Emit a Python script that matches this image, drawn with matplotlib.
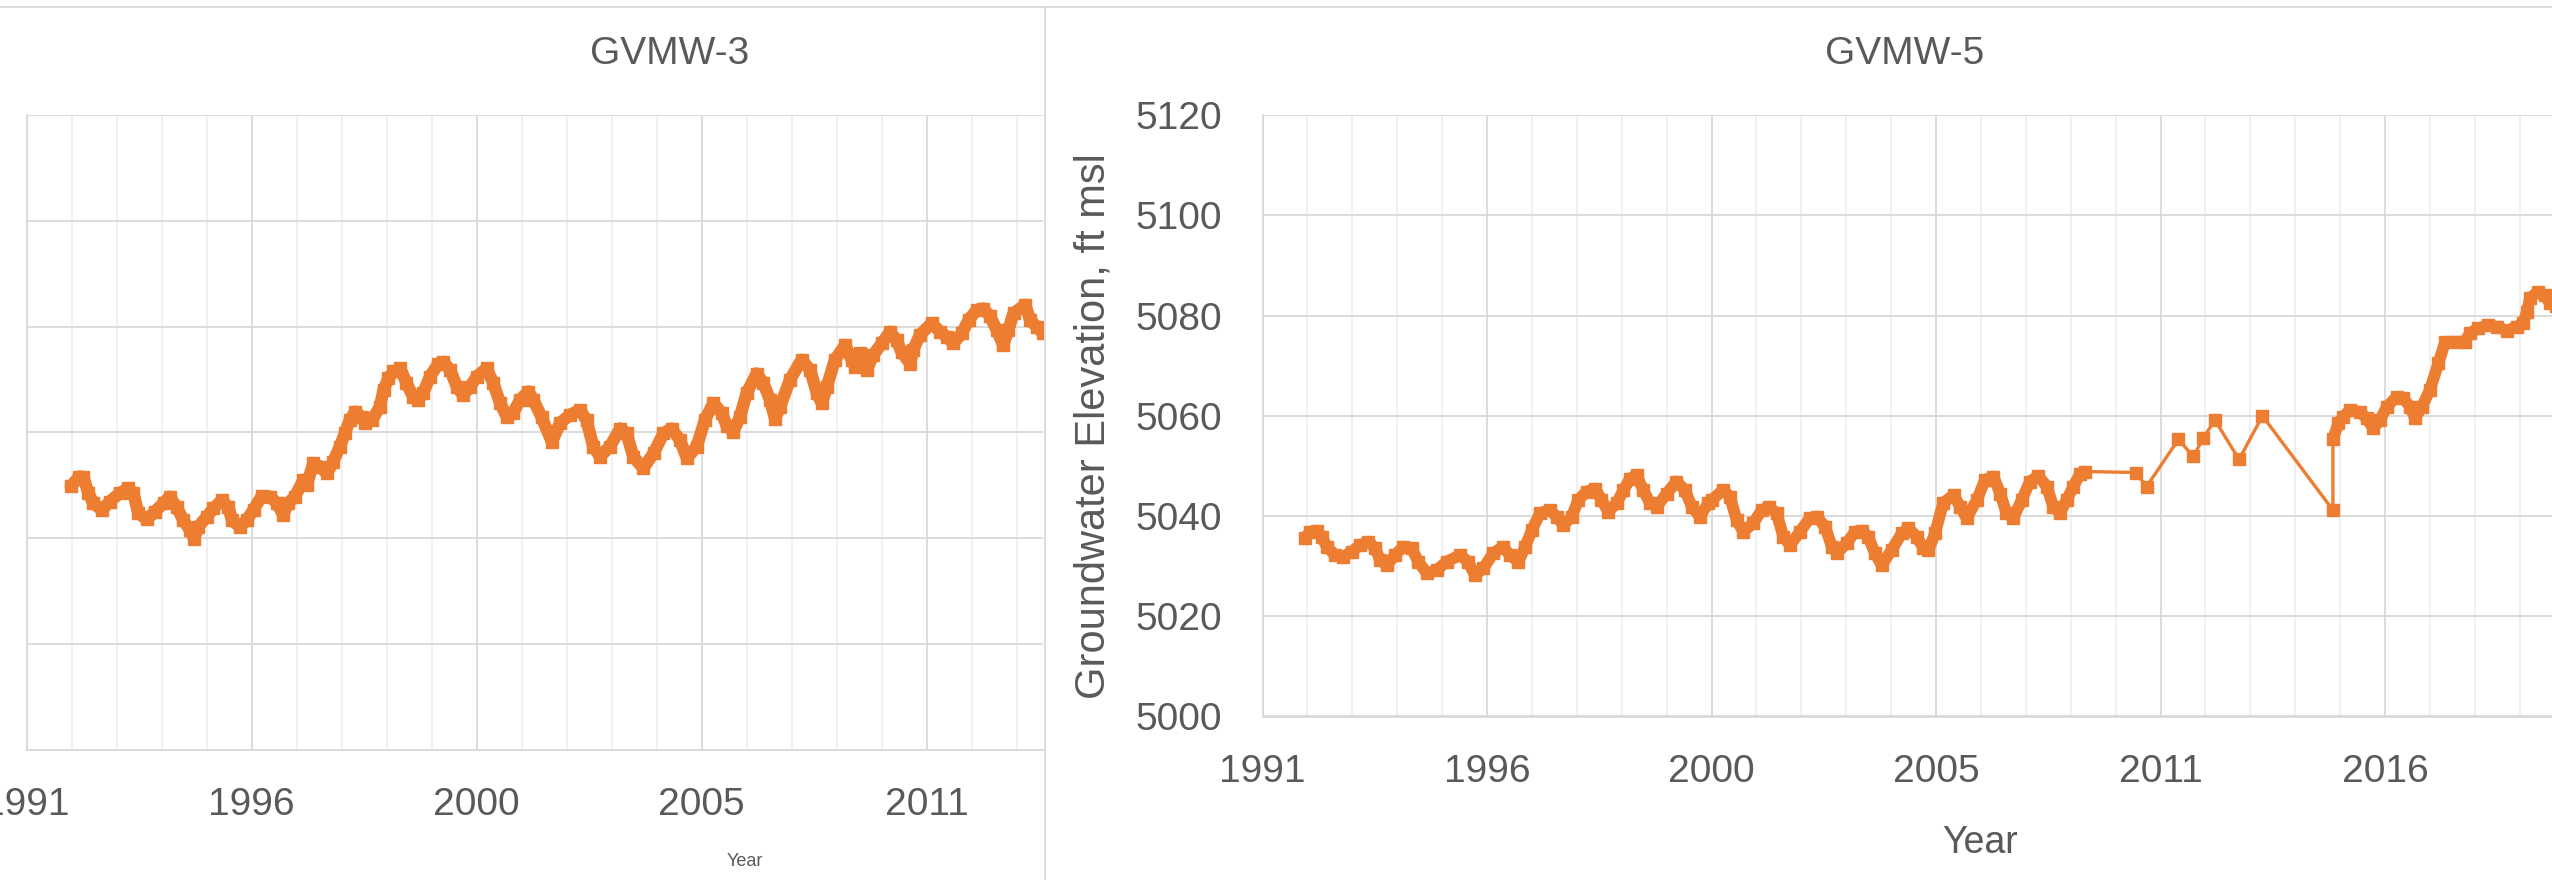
import numpy as np
import matplotlib
matplotlib.use("Agg")
import matplotlib.pyplot as plt
from matplotlib.lines import Line2D

plt.rcParams["font.family"] = ["Liberation Sans", "DejaVu Sans"]

W, H = 2552, 880
ORANGE = "#ED7D31"
TEXT = "#595959"
GRID = "#D9D9D9"
MINOR = "#EFEFEF"

# x axis is a category (date) axis: labels sit every 5 minor gridlines
YEAR_LABELS = ["1991", "1996", "2000", "2005", "2011", "2016"]
YEAR_POS = [0, 5, 10, 15, 20, 25]

# GVMW-3 : position on the category axis, elevation ft msl
gv3_pos = [0.98, 1.17, 1.26, 1.37, 1.48, 1.67, 1.85, 2.07, 2.26, 2.37, 2.48, 2.67,
           2.85, 3.04, 3.18, 3.33, 3.48, 3.63, 3.72, 3.81, 4.00, 4.15, 4.33, 4.48,
           4.56, 4.74, 4.89, 5.04, 5.22, 5.41, 5.56, 5.70, 5.81, 5.96, 6.15, 6.22,
           6.37, 6.52, 6.67, 6.81, 6.96, 7.07, 7.18, 7.30, 7.44, 7.52, 7.67, 7.85,
           7.93, 8.04, 8.15, 8.30, 8.44, 8.59, 8.70, 8.81, 8.96, 9.15, 9.26, 9.41,
           9.56, 9.70, 9.85, 10.00, 10.22, 10.37, 10.52, 10.67, 10.81, 10.96, 11.15,
           11.26, 11.44, 11.67, 11.85, 12.07, 12.30, 12.44, 12.59, 12.74, 12.96,
           13.19, 13.33, 13.48, 13.70, 13.93, 14.15, 14.33, 14.52, 14.67, 14.89,
           15.07, 15.26, 15.45, 15.56, 15.70, 15.85, 16.00, 16.22, 16.37, 16.52,
           16.63, 16.74, 16.96, 17.22, 17.41, 17.56, 17.67, 17.78, 17.96, 18.19,
           18.33, 18.41, 18.52, 18.67, 18.81, 19.00, 19.19, 19.33, 19.44, 19.63,
           19.70, 19.85, 20.11, 20.30, 20.44, 20.59, 20.78, 20.93, 21.11, 21.26,
           21.41, 21.56, 21.70, 21.81, 21.93, 22.19, 22.30, 22.44, 22.59, 22.70]
gv3_elev = [5049.8, 5051.6, 5051.5, 5048.5, 5046.6, 5045.3, 5046.9, 5048.5, 5049.4,
            5048.5, 5044.7, 5043.5, 5045.0, 5046.6, 5047.8, 5045.9, 5043.4, 5041.5,
            5039.9, 5042.1, 5044.0, 5045.6, 5047.1, 5045.9, 5043.4, 5042.1, 5043.4,
            5045.3, 5047.9, 5047.8, 5046.6, 5044.4, 5046.6, 5047.8, 5051.0, 5050.0,
            5054.1, 5053.5, 5052.2, 5054.4, 5057.3, 5059.8, 5062.3, 5063.9, 5062.9,
            5061.7, 5062.3, 5064.8, 5068.0, 5070.2, 5071.5, 5072.1, 5069.3, 5066.7,
            5066.1, 5067.4, 5070.5, 5073.0, 5073.3, 5071.8, 5068.6, 5067.0, 5068.6,
            5070.5, 5072.1, 5069.3, 5065.5, 5062.9, 5063.6, 5066.1, 5067.7, 5066.1,
            5062.9, 5058.2, 5061.7, 5063.3, 5064.2, 5062.3, 5057.3, 5055.4, 5057.3,
            5060.7, 5059.8, 5055.4, 5053.2, 5056.0, 5059.8, 5060.7, 5058.5, 5055.1,
            5057.3, 5062.3, 5065.5, 5063.6, 5061.1, 5060.1, 5062.9, 5067.4, 5071.1,
            5069.3, 5066.1, 5062.6, 5064.8, 5069.9, 5073.7, 5071.8, 5067.4, 5065.5,
            5068.6, 5073.7, 5076.5, 5073.7, 5072.4, 5074.9, 5071.8, 5074.6, 5076.8,
            5079.0, 5077.4, 5075.2, 5073.0, 5075.6, 5078.4, 5080.6, 5079.0, 5078.1,
            5076.8, 5078.7, 5081.2, 5083.1, 5083.4, 5081.9, 5079.3, 5076.5, 5079.3,
            5082.5, 5084.1, 5081.2, 5080.0, 5078.7, 5079.0]

# GVMW-5, early monthly record
gv5_pos_a = [0.95, 1.06, 1.21, 1.32, 1.43, 1.62, 1.80, 1.99, 2.17, 2.36, 2.51, 2.62,
             2.77, 2.95, 3.14, 3.32, 3.47, 3.66, 3.88, 4.10, 4.40, 4.58, 4.73, 4.92,
             5.14, 5.36, 5.51, 5.70, 5.85, 6.00, 6.18, 6.40, 6.55, 6.70, 6.89, 7.03,
             7.22, 7.41, 7.55, 7.70, 7.89, 8.04, 8.19, 8.33, 8.48, 8.63, 8.78, 9.00,
             9.22, 9.41, 9.56, 9.74, 9.93, 10.00, 10.26, 10.41, 10.56, 10.71, 10.93,
             11.12, 11.27, 11.45, 11.60, 11.75, 11.97, 12.19, 12.34, 12.53, 12.68,
             12.79, 13.01, 13.20, 13.35, 13.49, 13.64, 13.79, 14.01, 14.24, 14.38,
             14.57, 14.72, 14.83, 14.98, 15.16, 15.39, 15.54, 15.68, 15.91, 16.09,
             16.28, 16.43, 16.57, 16.72, 16.91, 17.09, 17.28, 17.47, 17.61, 17.76,
             17.91, 18.06, 18.21, 18.32]
gv5_elev_a = [5035.6, 5036.9, 5037.1, 5035.9, 5033.9, 5032.2, 5031.9, 5032.9, 5034.2,
              5034.9, 5033.6, 5031.2, 5030.2, 5032.2, 5033.9, 5033.6, 5030.9, 5028.6,
              5029.2, 5030.9, 5032.2, 5030.9, 5028.2, 5029.6, 5032.6, 5033.9, 5032.2,
              5030.9, 5033.9, 5037.2, 5040.6, 5041.2, 5039.9, 5038.2, 5039.9, 5043.2,
              5044.9, 5045.5, 5043.2, 5040.9, 5042.6, 5045.2, 5047.5, 5048.2, 5045.2,
              5042.6, 5041.9, 5044.5, 5046.9, 5045.2, 5041.9, 5039.9, 5042.6, 5043.2,
              5045.2, 5043.9, 5039.2, 5036.9, 5038.6, 5041.2, 5041.9, 5040.6, 5035.9,
              5034.2, 5036.9, 5039.6, 5039.9, 5037.9, 5033.9, 5032.6, 5034.6, 5036.9,
              5037.1, 5035.9, 5032.6, 5030.2, 5033.2, 5036.6, 5037.6, 5035.9, 5033.6,
              5033.2, 5036.6, 5042.6, 5044.2, 5041.9, 5039.6, 5043.2, 5047.2, 5047.9,
              5044.5, 5040.6, 5039.6, 5043.2, 5046.9, 5048.0, 5045.9, 5041.9, 5040.6,
              5043.2, 5045.9, 5048.5, 5048.9]

# GVMW-5, sparse readings
gv5_pos_b = [19.45, 19.69, 20.40, 20.73, 20.95, 21.21, 21.75, 22.27, 23.84]
gv5_elev_b = [5048.7, 5045.9, 5055.3, 5051.9, 5055.5, 5059.2, 5051.3, 5060.0, 5041.2]

# GVMW-5, recent record
gv5_pos_c = [23.84, 23.96, 24.07, 24.22, 24.44, 24.59, 24.74, 24.89, 25.04, 25.26,
             25.41, 25.56, 25.67, 25.82, 26.00, 26.19, 26.34, 26.60, 26.78, 26.89,
             27.08, 27.30, 27.49, 27.71, 27.93, 28.08, 28.16, 28.23, 28.41, 28.56,
             28.67, 28.80]
gv5_elev_c = [5055.3, 5058.5, 5059.8, 5061.2, 5060.8, 5059.5, 5057.5, 5059.2, 5061.8,
              5063.8, 5063.5, 5061.8, 5059.5, 5061.8, 5065.2, 5070.5, 5074.8, 5074.8,
              5074.8, 5076.5, 5077.5, 5078.1, 5077.8, 5077.0, 5077.8, 5078.5, 5080.8,
              5083.5, 5084.8, 5084.1, 5082.5, 5082.0]


def fx(px):
    return px / W


def fy(py):
    return 1 - py / H


def style_axes(ax, xmax, ymin, ymax):
    ax.set_xticks(YEAR_POS, YEAR_LABELS)
    ax.set_xticks(np.arange(0, int(xmax) + 1), minor=True)
    ax.set_yticks(np.arange(ymin, ymax + 1, 20))
    # limits after the ticks, so the tick lists do not widen the view
    ax.set_xlim(0, xmax)
    ax.set_ylim(ymin, ymax)
    ax.grid(which="major", color=GRID, lw=1.3)
    ax.grid(which="minor", axis="x", color=MINOR, lw=1.3)
    ax.set_axisbelow(True)
    ax.tick_params(which="both", length=0, colors=TEXT, labelsize=28)
    ax.tick_params(axis="x", pad=27)
    ax.tick_params(axis="y", pad=29)
    for s in ["top", "right"]:
        ax.spines[s].set_visible(False)
    for s in ["left", "bottom"]:
        ax.spines[s].set_color(GRID)
        ax.spines[s].set_linewidth(1.3)


fig = plt.figure(figsize=(W / 100, H / 100), dpi=100)
fig.patch.set_facecolor("white")

# left chart (cropped in the source picture, its y labels fall outside)
ax3 = fig.add_axes([fx(26.7), fy(749.5), (1043 - 26.7) / W, (749.5 - 115) / H])
style_axes(ax3, (1043 - 26.7) / 45.0, 5000, 5120)
ax3.tick_params(axis="y", labelleft=False)
ax3.plot(gv3_pos, gv3_elev, color=ORANGE, lw=9, solid_joinstyle="round",
         solid_capstyle="round", marker="s", ms=9, mfc=ORANGE, mec=ORANGE)

# right chart
ax5 = fig.add_axes([fx(1262.5), fy(716.5), (W - 1262.5) / W, (716.5 - 115.3) / H])
style_axes(ax5, (W - 1262.5) / 44.9, 5000, 5120)
ax5.plot(gv5_pos_a + gv5_pos_b + gv5_pos_c, gv5_elev_a + gv5_elev_b + gv5_elev_c,
         color=ORANGE, lw=2.4)
for px_, ev_ in [(gv5_pos_a, gv5_elev_a), (gv5_pos_c, gv5_elev_c)]:
    ax5.plot(px_, ev_, color=ORANGE, lw=8.5, solid_joinstyle="round",
             solid_capstyle="round", marker="s", ms=8.5, mfc=ORANGE, mec=ORANGE)
ax5.plot(gv5_pos_b, gv5_elev_b, ls="none", marker="s", ms=8.5, mfc=ORANGE, mec=ORANGE)

# titles and axis titles
fig.text(fx(670), fy(64.5), "GVMW-3", ha="center", va="baseline", fontsize=28, color=TEXT)
fig.text(fx(1905), fy(64.5), "GVMW-5", ha="center", va="baseline", fontsize=28, color=TEXT)
fig.text(fx(745), fy(866), "Year", ha="center", va="baseline", fontsize=13, color=TEXT)
fig.text(fx(1980), fy(853), "Year", ha="center", va="baseline", fontsize=27, color=TEXT)
fig.text(fx(1093), fy(426), "Groundwater Elevation, ft msl", rotation=90,
         ha="center", va="center", fontsize=30, color=TEXT)

# chart-area borders
fig.add_artist(Line2D([0, 1], [fy(7), fy(7)], color=GRID, lw=1.3))
fig.add_artist(Line2D([fx(1045), fx(1045)], [0, fy(7)], color=GRID, lw=1.3))

fig.savefig("out.png", dpi=100)
